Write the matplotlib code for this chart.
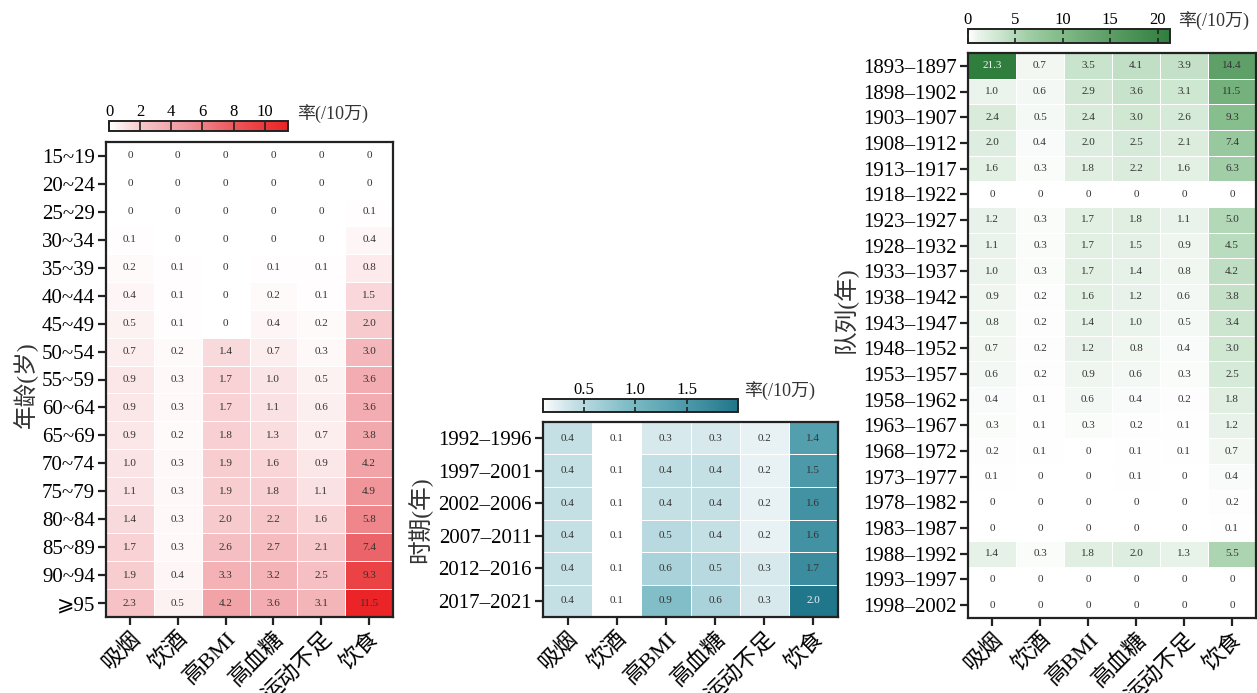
import matplotlib
matplotlib.use('Agg')
import matplotlib.pyplot as plt
from matplotlib.colors import LinearSegmentedColormap, Normalize
import matplotlib.cm as cm
import numpy as np

plt.rcParams['font.family'] = ['Liberation Serif', 'Noto Sans CJK SC', 'DejaVu Sans']

factors = ['吸烟', '饮酒', '高BMI', '高血糖', '运动不足', '饮食']

age_groups = ['15~19', '20~24', '25~29', '30~34', '35~39', '40~44', '45~49',
              '50~54', '55~59', '60~64', '65~69', '70~74', '75~79', '80~84',
              '85~89', '90~94', '⩾95']
age_rates = [
    [0, 0, 0, 0, 0, 0],
    [0, 0, 0, 0, 0, 0],
    [0, 0, 0, 0, 0, 0.1],
    [0.1, 0, 0, 0, 0, 0.4],
    [0.2, 0.1, 0, 0.1, 0.1, 0.8],
    [0.4, 0.1, 0, 0.2, 0.1, 1.5],
    [0.5, 0.1, 0, 0.4, 0.2, 2.0],
    [0.7, 0.2, 1.4, 0.7, 0.3, 3.0],
    [0.9, 0.3, 1.7, 1.0, 0.5, 3.6],
    [0.9, 0.3, 1.7, 1.1, 0.6, 3.6],
    [0.9, 0.2, 1.8, 1.3, 0.7, 3.8],
    [1.0, 0.3, 1.9, 1.6, 0.9, 4.2],
    [1.1, 0.3, 1.9, 1.8, 1.1, 4.9],
    [1.4, 0.3, 2.0, 2.2, 1.6, 5.8],
    [1.7, 0.3, 2.6, 2.7, 2.1, 7.4],
    [1.9, 0.4, 3.3, 3.2, 2.5, 9.3],
    [2.3, 0.5, 4.2, 3.6, 3.1, 11.5],
]

periods = ['1992–1996', '1997–2001', '2002–2006', '2007–2011', '2012–2016', '2017–2021']
period_rates = [
    [0.4, 0.1, 0.3, 0.3, 0.2, 1.4],
    [0.4, 0.1, 0.4, 0.4, 0.2, 1.5],
    [0.4, 0.1, 0.4, 0.4, 0.2, 1.6],
    [0.4, 0.1, 0.5, 0.4, 0.2, 1.6],
    [0.4, 0.1, 0.6, 0.5, 0.3, 1.7],
    [0.4, 0.1, 0.9, 0.6, 0.3, 2.0],
]

cohorts = ['1893–1897', '1898–1902', '1903–1907', '1908–1912', '1913–1917',
           '1918–1922', '1923–1927', '1928–1932', '1933–1937', '1938–1942',
           '1943–1947', '1948–1952', '1953–1957', '1958–1962', '1963–1967',
           '1968–1972', '1973–1977', '1978–1982', '1983–1987', '1988–1992',
           '1993–1997', '1998–2002']
cohort_rates = [
    [21.3, 0.7, 3.5, 4.1, 3.9, 14.4],
    [1.0, 0.6, 2.9, 3.6, 3.1, 11.5],
    [2.4, 0.5, 2.4, 3.0, 2.6, 9.3],
    [2.0, 0.4, 2.0, 2.5, 2.1, 7.4],
    [1.6, 0.3, 1.8, 2.2, 1.6, 6.3],
    [0, 0, 0, 0, 0, 0],
    [1.2, 0.3, 1.7, 1.8, 1.1, 5.0],
    [1.1, 0.3, 1.7, 1.5, 0.9, 4.5],
    [1.0, 0.3, 1.7, 1.4, 0.8, 4.2],
    [0.9, 0.2, 1.6, 1.2, 0.6, 3.8],
    [0.8, 0.2, 1.4, 1.0, 0.5, 3.4],
    [0.7, 0.2, 1.2, 0.8, 0.4, 3.0],
    [0.6, 0.2, 0.9, 0.6, 0.3, 2.5],
    [0.4, 0.1, 0.6, 0.4, 0.2, 1.8],
    [0.3, 0.1, 0.3, 0.2, 0.1, 1.2],
    [0.2, 0.1, 0, 0.1, 0.1, 0.7],
    [0.1, 0, 0, 0.1, 0, 0.4],
    [0, 0, 0, 0, 0, 0.2],
    [0, 0, 0, 0, 0, 0.1],
    [1.4, 0.3, 1.8, 2.0, 1.3, 5.5],
    [0, 0, 0, 0, 0, 0],
    [0, 0, 0, 0, 0, 0],
]

W, H = 1257, 693
fig = plt.figure(figsize=(W / 100, H / 100), dpi=100)


def px_axes(x0, y0, x1, y1):
    return fig.add_axes([x0 / W, 1 - y1 / H, (x1 - x0) / W, (y1 - y0) / H])


def ramp(name, stops):
    return LinearSegmentedColormap.from_list(
        name, [(p, tuple(c / 255 for c in rgb)) for p, rgb in stops])


reds = ramp('reds', [(0, (255, 255, 255)), (0.1, (250, 224, 226)),
                     (0.2, (246, 194, 198)), (0.42, (240, 152, 157)),
                     (0.5, (238, 135, 140)), (0.65, (235, 98, 103)),
                     (0.8, (235, 68, 72)), (1, (234, 36, 39))])
teals = ramp('teals', [(0, (255, 255, 255)), (0.05, (232, 242, 244)),
                       (0.16, (196, 223, 229)), (0.26, (170, 210, 218)),
                       (0.42, (130, 190, 200)), (0.68, (85, 160, 175)),
                       (0.84, (60, 140, 158)), (1, (32, 118, 138))])
greens = ramp('greens', [(0, (255, 255, 255)), (0.05, (234, 243, 235)),
                         (0.15, (205, 230, 208)), (0.3, (160, 205, 165)),
                         (0.45, (132, 188, 138)), (0.68, (95, 160, 105)),
                         (1, (48, 126, 62))])


def heatmap(box, rows, data, cmap, vmin, vmax, dark_above):
    ax = px_axes(*box)
    data = np.array(data, dtype=float)
    ax.pcolormesh(data, cmap=cmap, vmin=vmin, vmax=vmax,
                  edgecolors='white', linewidth=0.5)
    ax.set_xlim(0, data.shape[1])
    ax.set_ylim(data.shape[0], 0)
    for i in range(data.shape[0]):
        for j in range(data.shape[1]):
            v = data[i, j]
            s = '0' if v == 0 else '{:.1f}'.format(v)
            c = '#f4f4f4' if v >= dark_above else '#333333'
            ax.text(j + 0.5, i + 0.5, s, ha='center', va='center',
                    fontsize=8, color=c)
    ax.set_yticks(np.arange(len(rows)) + 0.5)
    ax.set_yticklabels(rows, fontsize=15)
    ax.set_xticks(np.arange(len(factors)) + 0.5)
    ax.set_xticklabels(factors, fontsize=16, rotation=45, ha='right',
                       rotation_mode='anchor')
    ax.tick_params(length=6, width=1.6, color='#222222', pad=2)
    for sp in ax.spines.values():
        sp.set_linewidth(1.6)
        sp.set_color('#222222')
    return ax


def colorbar(box, cmap, vmin, vmax, ticks, labels, label_xy):
    cax = px_axes(*box)
    sm = cm.ScalarMappable(norm=Normalize(vmin, vmax), cmap=cmap)
    cb = fig.colorbar(sm, cax=cax, orientation='horizontal')
    cb.set_ticks(ticks)
    cb.set_ticklabels(labels)
    cax.tick_params(direction='in', top=True, bottom=True, labeltop=True,
                    labelbottom=False, length=3.5, width=1.2, color='#222222',
                    labelsize=12, pad=1)
    cb.outline.set_linewidth(1.4)
    cb.outline.set_edgecolor('#222222')
    fig.text(label_xy[0] / W, 1 - label_xy[1] / H, '率(/10万)',
             fontsize=13, ha='left', va='center', color='#333333')


# age effect
heatmap((106, 142, 393, 617), age_groups, age_rates, reds, 0, 11.5, 99)
colorbar((109, 121, 288, 131), reds, 0, 11.5, [0, 2, 4, 6, 8, 10],
         ['0', '2', '4', '6', '8', '10'], (297, 114))
fig.text(25 / W, 1 - 385 / H, '年龄(岁)', rotation=90, fontsize=17,
         ha='center', va='center', color='#333333')

# period effect
heatmap((543, 422, 838, 617), periods, period_rates, teals, 0.1, 2.0, 1.95)
colorbar((543, 399, 738, 412), teals, 0.1, 2.0, [0.5, 1.0, 1.5],
         ['0.5', '1.0', '1.5'], (744, 391))
fig.text(420 / W, 1 - 520 / H, '时期(年)', rotation=90, fontsize=17,
         ha='center', va='center', color='#333333')

# cohort effect
heatmap((968, 53, 1256, 618), cohorts, cohort_rates, greens, 0, 21.3, 20)
colorbar((968, 29, 1170, 43), greens, 0, 21.3, [0, 5, 10, 15, 20],
         ['0', '5', '10', '15', '20'], (1178, 21))
fig.text(845 / W, 1 - 310 / H, '队列(年)', rotation=90, fontsize=17,
         ha='center', va='center', color='#333333')

fig.savefig('out.png', dpi=100)
